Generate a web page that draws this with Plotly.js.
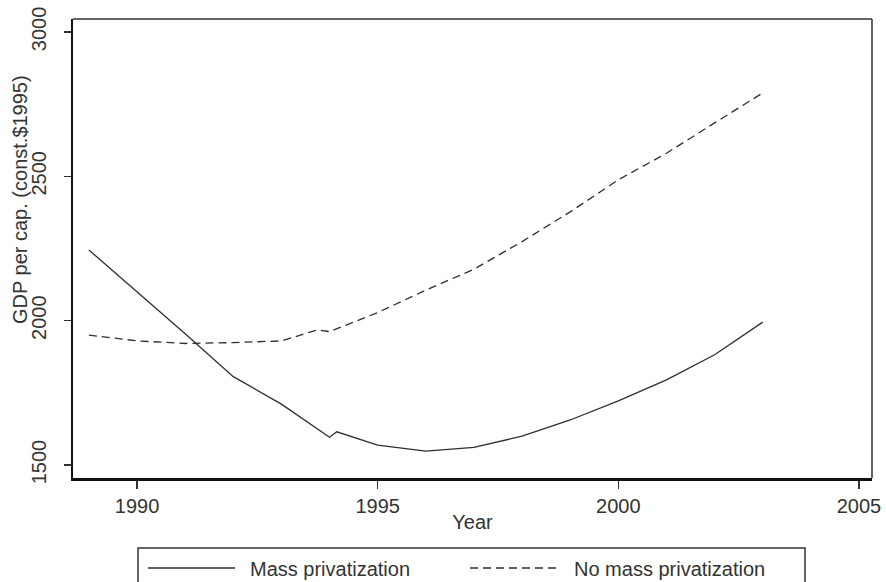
<!DOCTYPE html>
<html>
<head>
<meta charset="utf-8">
<script src="https://cdn.plot.ly/plotly-3.0.1.min.js"></script>
<style>html,body{margin:0;padding:0;background:#fff;}#chart{width:886px;height:582px;}</style>
</head>
<body>
<div id="chart"></div>
<script>
// Data
const massYears = [1989, 1990, 1991, 1992, 1993, 1994, 1994.15, 1995, 1996, 1997, 1998, 1999, 2000, 2001, 2002, 2003];
const massGDP   = [2245, 2100, 1955, 1806, 1711, 1596, 1615, 1569, 1548, 1561, 1600, 1656, 1722, 1795, 1882, 1995];
const noMassYears = [1989, 1990, 1991, 1992, 1993, 1993.75, 1994, 1995, 1996, 1997, 1998, 1999, 2000, 2001, 2002, 2003];
const noMassGDP   = [1950, 1930, 1921, 1924, 1930, 1968, 1962, 2028, 2106, 2178, 2274, 2377, 2488, 2580, 2685, 2789];
const seriesNames = ["Mass privatization", "No mass privatization"];
const xTicks = [1990, 1995, 2000, 2005];
const yTicks = [1500, 2000, 2500, 3000];
const xTitle = "Year";
const yTitle = "GDP per cap. (const.$1995)";

const W = 886, H = 582;
const L = 73, R = 872, T = 19, B = 478;
const px = v => (v - L) / (R - L);
const py = v => (B - v) / (B - T);

const font = {family: 'Liberation Sans, Arial, sans-serif', size: 20, color: '#333333'};

const traces = [
  {x: massYears, y: massGDP, name: seriesNames[0], mode: 'lines',
   line: {color: '#2e2e2e', width: 1.3}},
  {x: noMassYears, y: noMassGDP, name: seriesNames[1], mode: 'lines',
   line: {color: '#2e2e2e', width: 1.3, dash: '8px,5px'}}
];

const shapes = [
  {type: 'line', xref: 'paper', yref: 'paper', x0: 0, x1: 1, y0: 1, y1: 1, line: {color: '#333', width: 1.5}},
  {type: 'line', xref: 'paper', yref: 'paper', x0: 1, x1: 1, y0: 0, y1: 1, line: {color: '#333', width: 1.5}},
  {type: 'rect', xref: 'paper', yref: 'paper', x0: px(138), x1: px(805), y0: py(548), y1: py(620),
   line: {color: '#333', width: 1.5}, fillcolor: 'rgba(0,0,0,0)'},
  {type: 'line', xref: 'paper', yref: 'paper', x0: px(148), x1: px(235), y0: py(568), y1: py(568),
   line: {color: '#2e2e2e', width: 1.3}},
  {type: 'line', xref: 'paper', yref: 'paper', x0: px(470), x1: px(557), y0: py(568), y1: py(568),
   line: {color: '#2e2e2e', width: 1.3, dash: '8px,5px'}}
];

const annotations = [
  {text: seriesNames[0], xref: 'paper', yref: 'paper', x: px(248), y: py(569), xanchor: 'left', yanchor: 'middle',
   showarrow: false, font: font},
  {text: seriesNames[1], xref: 'paper', yref: 'paper', x: px(572), y: py(569), xanchor: 'left', yanchor: 'middle',
   showarrow: false, font: font},
  {text: yTitle, xref: 'paper', yref: 'paper', x: px(20), y: py(200), xanchor: 'center', yanchor: 'middle',
   textangle: -90, showarrow: false, font: font}
];

const layout = {
  width: W, height: H,
  margin: {l: L, r: W - R, t: T, b: H - B, pad: 0},
  paper_bgcolor: '#fff', plot_bgcolor: '#fff',
  showlegend: false,
  font: font,
  xaxis: {
    range: [1988.67, 2005.27], tickvals: xTicks, ticktext: xTicks.map(String),
    showgrid: false, zeroline: false, showline: true, linecolor: '#111', linewidth: 2.5,
    ticks: 'outside', ticklen: 8, tickwidth: 1.2, tickcolor: '#333', ticklabelstandoff: 0,
    tickfont: font, title: {text: xTitle, font: font, standoff: 0}
  },
  yaxis: {
    range: [1455, 3045], tickvals: yTicks, ticktext: yTicks.map(String),
    showgrid: false, zeroline: false, showline: true, linecolor: '#111', linewidth: 2,
    ticks: 'outside', ticklen: 7, tickwidth: 1.2, tickcolor: '#333', tickangle: -90,
    ticklabelstandoff: 10, tickfont: font
  },
  shapes: shapes,
  annotations: annotations
};

Plotly.newPlot('chart', traces, layout, {displayModeBar: false, staticPlot: true});
</script>
</body>
</html>
